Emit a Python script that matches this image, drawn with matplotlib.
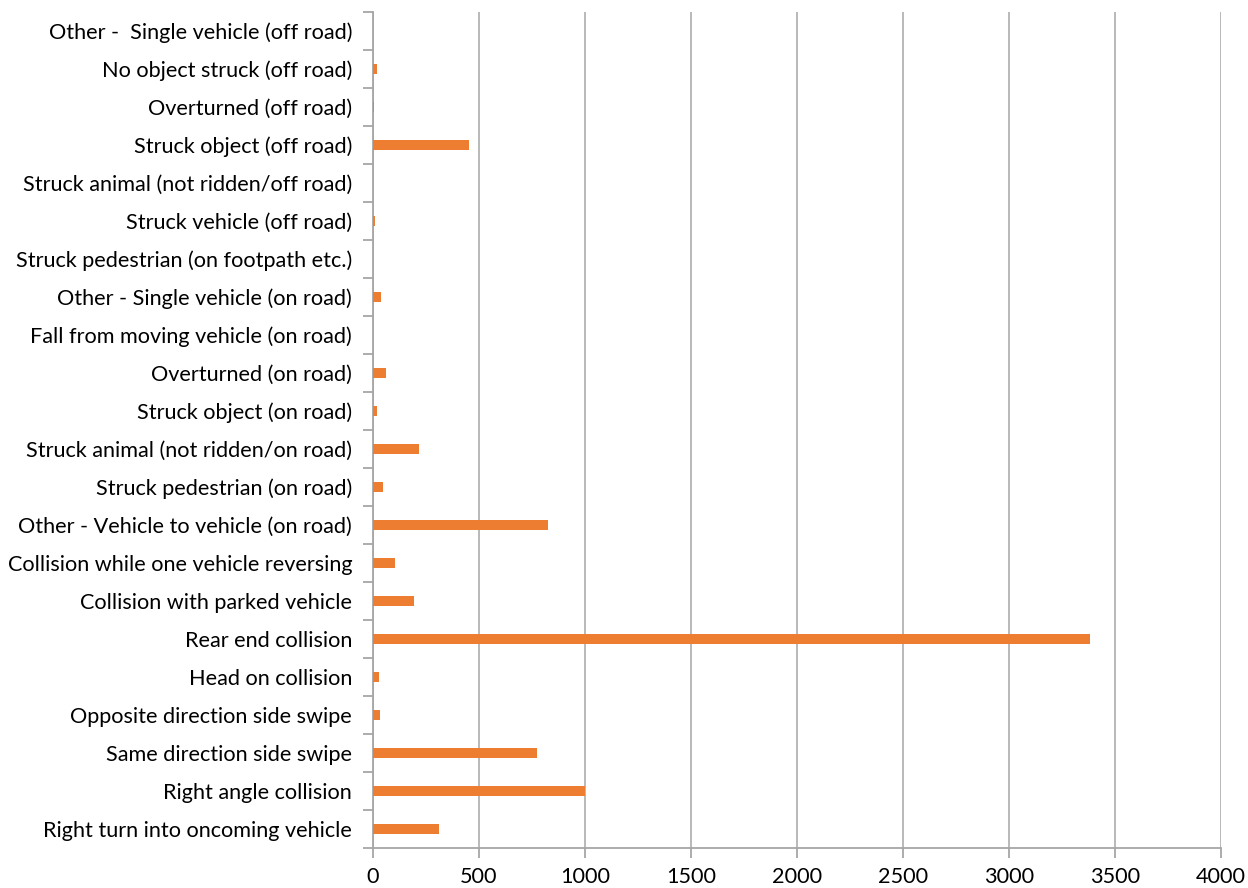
import matplotlib.pyplot as plt
import numpy as np

# crash types, listed bottom to top as they appear on the axis
categories = [
    'Right turn into oncoming vehicle',
    'Right angle collision',
    'Same direction side swipe',
    'Opposite direction side swipe',
    'Head on collision',
    'Rear end collision',
    'Collision with parked vehicle',
    'Collision while one vehicle reversing',
    'Other - Vehicle to vehicle (on road)',
    'Struck pedestrian (on road)',
    'Struck animal (not ridden/on road)',
    'Struck object (on road)',
    'Overturned (on road)',
    'Fall from moving vehicle (on road)',
    'Other - Single vehicle (on road)',
    'Struck pedestrian (on footpath etc.)',
    'Struck vehicle (off road)',
    'Struck animal (not ridden/off road)',
    'Struck object (off road)',
    'Overturned (off road)',
    'No object struck (off road)',
    'Other -  Single vehicle (off road)',
]
counts = [310, 1000, 774, 34, 30, 3383, 195, 105, 825, 47, 217, 20, 63, 0,
          39, 1, 8, 0, 453, 5, 20, 0]

xticks = np.arange(0, 4001, 500)

plt.rcParams['font.family'] = ['Lato', 'DejaVu Sans']

fig = plt.figure(figsize=(12.48, 8.88), dpi=100)
ax = fig.add_axes([373/1248, 1 - 848/888, (1221-373)/1248, (848-12)/888])

y = np.arange(len(categories))
ax.barh(y, counts, height=0.25, color='#ED7D31', zorder=3)

ax.set_xlim(0, 4000)
ax.set_ylim(-0.5, len(categories) - 0.5)
ax.set_xticks(xticks)
ax.set_yticks(y)
ax.set_yticklabels(categories)
ax.set_yticks(np.arange(-0.5, len(categories), 1), minor=True)

ax.grid(axis='x', color='#b3b3b3', linewidth=1.3, zorder=0)
for s in ['top', 'right']:
    ax.spines[s].set_visible(False)
for s in ['left', 'bottom']:
    ax.spines[s].set_color('#a6a6a6')
    ax.spines[s].set_linewidth(1.3)

ax.tick_params(axis='y', which='major', length=0, pad=15, labelsize=15.6)
ax.tick_params(axis='y', which='minor', length=7, width=1.3, color='#a6a6a6')
ax.tick_params(axis='x', length=7, width=1.3, color='#a6a6a6', pad=7, labelsize=15.6)

fig.savefig('out.png', dpi=100, facecolor='white')
